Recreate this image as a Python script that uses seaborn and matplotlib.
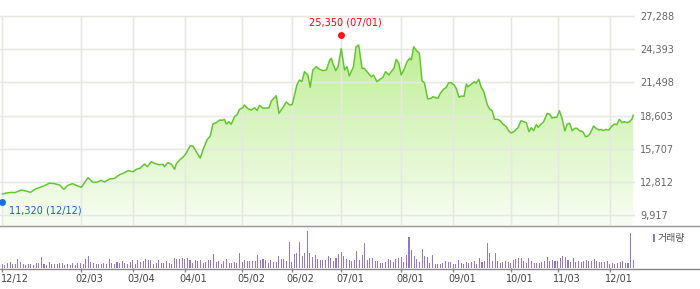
import numpy as np
import matplotlib
matplotlib.use("Agg")
import matplotlib.pyplot as plt
import matplotlib.transforms as mtransforms
from matplotlib.colors import LinearSegmentedColormap
from matplotlib.lines import Line2D
from matplotlib.patches import Rectangle
import seaborn as sns

# ---------------- data ----------------
# trading-day index (0 = 12/12) and closing price
price_day = [0, 1.5, 3.5, 4.7, 7.3, 9.0, 10.8, 12.7, 14.9, 16.2, 18.1, 20.0, 22.0, 23.6, 24.9,
             26.9, 28.4, 30.3, 32.9, 34.8, 36.6, 37.9, 39.2, 41.1, 43.0, 45.0, 46.9, 48.2, 50.1,
             51.4, 52.7, 54.6, 55.6, 57.2, 58.4, 60.1, 61.6, 62.2, 63.5, 64.8, 66.1, 66.7, 68.0,
             69.5, 70.5, 72.1, 73.1, 74.4, 75.9, 77.2, 78.5, 79.8, 80.8, 82.1, 83.4, 84.4, 85.2,
             85.9, 86.9, 87.8, 89.1, 90.0, 91.0, 92.3, 92.9, 94.2, 95.5, 96.8, 97.7, 98.7, 100.0,
             101.3, 102.3, 103.2, 104.5, 105.1, 106.1, 107.7, 108.9, 110.2, 111.2, 112.1, 113.0,
             114.0, 114.9, 115.9, 117.2, 118.1, 119.1, 120.4, 121.7, 123.0, 124.3, 125.6, 126.2,
             126.8, 127.9, 128.8, 130.0, 131.3, 132.2, 133.1, 134.7, 135.7, 136.7, 138.0, 138.9,
             140.2, 141.5, 142.4, 143.7, 145.0, 146.0, 147.0, 148.3, 149.2, 150.2, 151.1, 152.1,
             153.0, 154.3, 155.2, 156.3, 156.9, 157.8, 158.7, 160.0, 161.0, 161.9, 163.2, 164.5,
             165.1, 166.2, 167.1, 168.0, 169.2, 170.3, 171.2, 172.2, 173.3, 174.1, 175.2, 176.1,
             177.1, 178.0, 178.6, 179.5, 180.3, 181.2, 181.7, 182.8, 183.7, 184.7, 186.0, 186.9,
             187.9, 188.8, 190.0, 191.0, 192.0, 193.3, 194.3, 195.2, 196.5, 197.8, 199.0, 200.0,
             201.0, 202.0, 202.9, 203.8, 204.8, 205.6, 206.7, 207.6, 209.0, 209.9, 210.9, 211.8,
             212.7, 213.7, 214.8, 215.8, 216.7, 217.6, 218.6, 219.6, 220.5, 221.4, 222.7, 223.7,
             224.6, 225.5, 226.8, 227.8, 228.9, 229.8, 230.5, 231.6, 232.6, 233.8, 234.8, 235.7,
             236.7, 237.7, 238.6, 239.7, 240.6, 241.6, 242.0]
price_value = [11760, 11850, 11910, 11880, 12110, 12030, 11910, 12200, 12380, 12490, 12720, 12670,
               12550, 12170, 12490, 12670, 12520, 12350, 13190, 12780, 12810, 12960, 12810, 13070,
               13130, 13450, 13630, 13800, 13710, 13920, 14000, 14380, 14150, 14580, 14440, 14320,
               14350, 14150, 14500, 14380, 13920, 14380, 14730, 15020, 15310, 15980, 15950, 15460,
               14900, 15750, 16470, 16850, 17870, 17990, 18220, 18190, 18280, 17870, 18070, 17840,
               18510, 18650, 19150, 19290, 19530, 19210, 19090, 19290, 19060, 19500, 19240, 19270,
               19270, 19880, 20200, 20340, 18800, 19320, 19790, 19530, 19560, 20400, 21270, 21710,
               21560, 22430, 22140, 21070, 22580, 22870, 22640, 22520, 22580, 23450, 23600, 23160,
               22520, 22870, 24440, 22580, 22870, 22060, 22870, 24610, 24760, 22720, 22720, 22350,
               22000, 22140, 21560, 21790, 21940, 22430, 22140, 22430, 22720, 23510, 23160, 22140,
               22720, 23300, 23600, 23450, 24610, 24320, 24030, 21620, 21470, 20050, 20110, 20250,
               20160, 20110, 20540, 20890, 21070, 21470, 21470, 21270, 20980, 20200, 20310, 20280,
               21360, 21120, 21270, 21420, 21560, 21420, 21760, 21070, 20690, 19580, 19180, 19030,
               18280, 18280, 18160, 17870, 17640, 17260, 17080, 17260, 17550, 18160, 18070, 17990,
               17200, 17550, 17290, 17810, 17580, 17870, 18040, 18800, 18740, 18390, 18450, 18450,
               19030, 18280, 17260, 17870, 17930, 17290, 17490, 17490, 17290, 17200, 16760, 16820,
               17050, 17690, 17490, 17340, 17400, 17290, 17400, 17340, 17690, 17870, 17810, 18280,
               17990, 18070, 17990, 18070, 18330, 18650]

# daily trading volume (relative units), one bar per trading day
volume = [11, 8, 14, 17, 11, 11, 26, 18, 11, 8, 11, 11, 8, 14, 14, 32, 11, 8, 17, 11,
          11, 11, 14, 14, 8, 11, 8, 14, 8, 14, 14, 11, 26, 35, 17, 14, 11, 11, 11, 14,
          11, 26, 14, 11, 17, 14, 20, 14, 11, 17, 23, 11, 23, 17, 20, 26, 23, 23, 11, 14,
          23, 14, 14, 20, 14, 11, 29, 26, 26, 29, 26, 29, 23, 14, 23, 20, 23, 14, 17, 23,
          23, 41,
          17, 20, 11, 20, 26, 14, 14, 17, 14, 44, 17, 23, 20, 20, 20, 20, 38, 23, 26, 23,
          14, 23, 17, 17, 35, 26, 26, 20, 77, 17, 41, 44, 77, 35, 44, 110, 44, 32, 38, 26,
          23, 23, 23, 35, 29, 20, 29, 41, 47, 35, 26, 23, 20, 23, 50, 23, 38, 74, 23, 29,
          29, 20, 20, 14, 14, 17, 26, 23, 17, 26, 29, 32, 17, 38, 92, 53, 35, 26, 17, 56,
          35, 32,
          14, 38, 11, 11, 11, 14, 20, 17, 17, 11, 11, 23, 14, 11, 17, 14, 17, 20, 11, 29,
          17, 20, 74, 44, 20, 44, 20, 14, 17, 20, 17, 14, 23, 26, 29, 29, 20, 14, 29, 20,
          14, 14, 14, 17, 20, 32, 20, 23, 20, 20, 29, 35, 32, 23, 17, 29, 17, 20, 17, 20,
          23, 20, 20, 26, 20, 17, 17, 17, 20, 11, 14, 11, 14, 17, 20, 14, 14, 104, 23]
volume_day = list(range(len(volume)))

tick_day = [0, 30, 50, 70, 92, 111, 130, 153, 173, 195, 213, 233]
tick_label = ["12/12", "02/03", "03/04", "04/01", "05/02", "06/02", "07/01",
              "08/01", "09/01", "10/01", "11/03", "12/01"]
price_ticks = [9917, 12812, 15707, 18603, 21498, 24393, 27288]

high_day, high_value, high_date = 130, 25350, "07/01"
low_day, low_value, low_date = 0, 11320, "12/12"
volume_legend = "거래량"

# ---------------- figure ----------------
sns.set_theme(style="white")
plt.rcParams["font.family"] = ["DejaVu Sans"]

W, H = 700, 289
fig = plt.figure(figsize=(W / 100, H / 100), dpi=100)
fig.patch.set_facecolor("white")

def fx(px):
    return px / W

def fy(py):
    return 1 - py / H

AX_RIGHT = 634.5
ax = fig.add_axes([0, fy(225), fx(AX_RIGHT), 225 / H])
axv = fig.add_axes([0, fy(268), fx(AX_RIGHT), 42 / H])

XLIM = (-0.88, 242.5)
YLIM = (9063, 28683)
for a in (ax, axv):
    a.set_facecolor("none")
    for s in a.spines.values():
        s.set_visible(False)

# grid
grid_c = "#e9e9e9"
for t in price_ticks:
    ax.axhline(t, color=grid_c, lw=1, zorder=0.5)
ax.vlines(tick_day, YLIM[0], price_ticks[-1], color=grid_c, lw=1, zorder=0.5)

# gradient area under price line
poly = ax.fill_between(price_day, price_value, YLIM[0], facecolor="none", edgecolor="none")
cmap = LinearSegmentedColormap.from_list("g", ["#f8fdf4", "#b6ec86"])
grad = np.linspace(0, 1, 256).reshape(-1, 1)
im = ax.imshow(grad, extent=[XLIM[0], XLIM[1], YLIM[0], price_ticks[-1]], origin="lower",
               aspect="auto", cmap=cmap, zorder=0.3, interpolation="bicubic")
im.set_clip_path(poly.get_paths()[0], transform=ax.transData)

# faint grid over the fill
for t in price_ticks:
    ax.axhline(t, color="#e2eadb", lw=1, zorder=0.6, alpha=0.5)
ax.vlines(tick_day, YLIM[0], price_ticks[-1], color="#e2eadb", lw=1, zorder=0.6, alpha=0.5)

sns.lineplot(x=price_day, y=price_value, ax=ax, color="#62c72e", lw=1.1,
             sort=False, estimator=None, zorder=3)

# high / low markers
up = mtransforms.offset_copy(ax.transData, fig=fig, x=0, y=3, units="dots")
dn = mtransforms.offset_copy(ax.transData, fig=fig, x=0, y=-3, units="dots")
ax.plot([high_day], [high_value], "o", color="#ff1111", ms=5, mew=0, transform=up, zorder=4,
        clip_on=False)
ax.plot([low_day], [low_value], "o", color="#1a6fdc", ms=5, mew=0, transform=dn, zorder=4,
        clip_on=False)
ax.annotate(f"{high_value:,} ({high_date})", xy=(high_day, high_value), xytext=(4, 16),
            textcoords="offset pixels", ha="center", va="center", color="#ff0000", fontsize=7)
ax.annotate(f"{low_value:,} ({low_date})", xy=(low_day, low_value), xytext=(7, -11.4),
            textcoords="offset pixels", ha="left", va="center", color="#1a5fcc", fontsize=7)

ax.set_xlim(*XLIM)
ax.set_ylim(*YLIM)
ax.set_xticks([])
ax.yaxis.tick_right()
ax.set_yticks(price_ticks)
ax.set_yticklabels([f"{t:,}" for t in price_ticks])
ax.tick_params(axis="y", length=0, pad=4, labelsize=7, labelcolor="#666666")
ax.set_xlabel("")
ax.set_ylabel("")

# volume bars
sns.barplot(x=volume_day, y=volume, ax=axv, native_scale=True, color="#9478c8",
            width=0.4, linewidth=0, orient="x", saturation=1, errorbar=None)
for p in axv.patches:
    p.set_snap(True)
axv.set_xlim(*XLIM)
axv.set_ylim(0, 126)
axv.set_yticks([])
axv.set_xticks(tick_day)
axv.set_xticklabels(tick_label)
axv.tick_params(axis="x", direction="out", length=3, width=1, color="#888888",
                pad=1, labelsize=7, labelcolor="#444444", bottom=True)
axv.set_xlabel("")
axv.set_ylabel("")
for i, lab in enumerate(axv.get_xticklabels()):
    dx = 12.4 if i == 0 else 8.8
    lab.set_transform(lab.get_transform() + mtransforms.ScaledTranslation(dx / 100, 0, fig.dpi_scale_trans))

# full-width separators
fig.add_artist(Line2D([0, 1], [fy(225.5), fy(225.5)], color="#858585", lw=1))
fig.add_artist(Line2D([0, 1], [fy(226.5), fy(226.5)], color="#e6e6e6", lw=1))
fig.add_artist(Line2D([0, 1], [fy(268.5), fy(268.5)], color="#858585", lw=1))

# volume legend
fig.add_artist(Rectangle((fx(652.7), fy(241.7)), fx(2.4), 7.4 / H, color="#9478c8", lw=0))
fig.text(fx(658), fy(238), volume_legend, fontsize=7.2, color="#555555",
         family=["Noto Sans CJK KR", "DejaVu Sans"], ha="left", va="center")

fig.savefig("out.png", dpi=100, facecolor="white")
